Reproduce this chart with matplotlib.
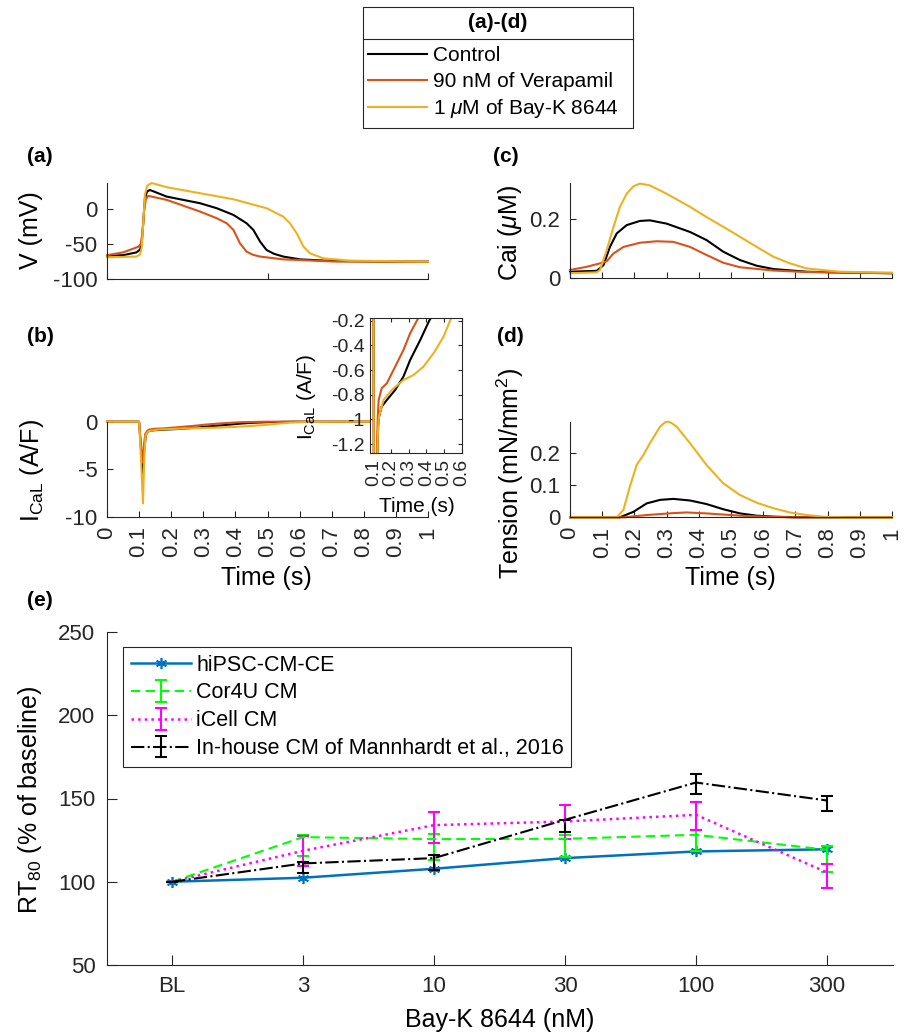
import matplotlib
matplotlib.use('Agg')
import matplotlib.pyplot as plt
import numpy as np
from matplotlib.lines import Line2D
from matplotlib.patches import Rectangle
from matplotlib.ticker import FuncFormatter

plt.rcParams['font.family'] = ['Liberation Sans', 'DejaVu Sans']
plt.rcParams['mathtext.fontset'] = 'custom'
plt.rcParams['mathtext.rm'] = 'Liberation Sans'
plt.rcParams['mathtext.it'] = 'Liberation Sans:italic'
plt.rcParams['mathtext.bf'] = 'Liberation Sans:bold'
plt.rcParams['axes.unicode_minus'] = False

# ---------------- data ----------------
series_labels = ['Control', '90 nM of Verapamil', r'1 $\mu$M of Bay-K 8644']
series_colors = ['#000000', '#D95319', '#EDB120']
legend_title = '(a)-(d)'

# (a) membrane potential
v_ctrl_t = [0, 0.05, 0.092, 0.103, 0.108, 0.113, 0.118, 0.125, 0.134, 0.186, 0.29, 0.342, 0.394,
            0.435, 0.456, 0.477, 0.497, 0.52, 0.549, 0.601, 0.705, 0.85, 1.0]
v_ctrl = [-67, -66, -62, -58, -50, -20, 15, 25, 27, 17.6, 8.1, 1, -8.6,
          -20.5, -30, -46.7, -58.6, -64, -68, -72, -74.3, -75, -75.2]
v_vera_t = [0, 0.05, 0.0976, 0.105, 0.11, 0.115, 0.121, 0.129, 0.186, 0.29, 0.342, 0.373, 0.394,
            0.414, 0.435, 0.455, 0.477, 0.549, 0.705, 1.0]
v_vera = [-66, -62, -54, -50, -35, -5, 14, 18.6, 12.9, -3.8, -13.3, -20.5, -30,
          -49, -61, -65.5, -68, -72, -75, -75.5]
v_bayk_t = [0, 0.092, 0.103, 0.108, 0.113, 0.118, 0.125, 0.139, 0.186, 0.29, 0.394, 0.497, 0.549,
            0.57, 0.591, 0.612, 0.632, 0.674, 0.757, 1.0]
v_bayk = [-69, -68, -65, -55, -20, 20, 33, 37, 31, 22.4, 13.8, 1, -11,
          -20.5, -34.8, -53.8, -63.3, -70.5, -73.8, -75.2]

# (b) L-type calcium current
i_ctrl_t = [0, 0.1, 0.106, 0.111, 0.116, 0.121, 0.127, 0.132, 0.147, 0.176, 0.223, 0.27, 0.308,
            0.365, 0.416, 0.45, 0.5, 0.58, 1.0]
i_ctrl = [0, 0, -3, -5.5, -3, -1.4, -1.05, -0.978, -0.897, -0.843, -0.762, -0.654, -0.519,
          -0.357, -0.2, -0.12, -0.05, 0, 0]
i_vera_t = [0, 0.1, 0.106, 0.111, 0.115, 0.119, 0.125, 0.13, 0.147, 0.176, 0.223, 0.27, 0.308,
            0.346, 0.38, 0.42, 0.5, 1.0]
i_vera = [0, 0, -2.5, -4.3, -2.5, -1.3, -0.978, -0.843, -0.748, -0.708, -0.573, -0.438, -0.302,
          -0.2, -0.12, -0.05, 0, 0]
i_bayk_t = [0, 0.1, 0.106, 0.112, 0.116, 0.12, 0.126, 0.132, 0.157, 0.204, 0.27, 0.327, 0.383,
            0.44, 0.497, 0.534, 0.57, 0.62, 0.7, 1.0]
i_bayk = [0, 0, -4.0, -8.6, -4.0, -1.5, -1.1, -0.978, -0.843, -0.762, -0.681, -0.64, -0.573,
          -0.465, -0.33, -0.2, -0.1, -0.03, 0, 0]

# (c) intracellular calcium
c_ctrl_t = [0, 0.083, 0.104, 0.124, 0.145, 0.176, 0.217, 0.248, 0.3, 0.373, 0.424, 0.476, 0.528,
            0.58, 0.632, 0.735, 0.85, 1.0]
c_ctrl = [0.022, 0.025, 0.044, 0.105, 0.15, 0.178, 0.192, 0.194, 0.183, 0.155, 0.128, 0.089, 0.061,
          0.042, 0.031, 0.022, 0.019, 0.017]
c_vera_t = [0, 0.05, 0.093, 0.114, 0.135, 0.166, 0.217, 0.269, 0.321, 0.373, 0.424, 0.476, 0.528,
            0.632, 0.735, 1.0]
c_vera = [0.028, 0.038, 0.05, 0.057, 0.083, 0.105, 0.119, 0.124, 0.122, 0.105, 0.078, 0.052, 0.037,
          0.026, 0.021, 0.017]
c_bayk_t = [0, 0.083, 0.093, 0.114, 0.135, 0.155, 0.176, 0.197, 0.217, 0.248, 0.3, 0.373, 0.424,
            0.497, 0.58, 0.632, 0.683, 0.735, 0.838, 1.0]
c_bayk = [0.017, 0.02, 0.028, 0.094, 0.172, 0.239, 0.283, 0.308, 0.317, 0.311, 0.283, 0.239, 0.205,
          0.159, 0.105, 0.072, 0.05, 0.033, 0.022, 0.019]

# (d) tension
f_ctrl_t = [0, 0.155, 0.197, 0.238, 0.28, 0.321, 0.373, 0.424, 0.476, 0.528, 0.58, 0.632, 0.7, 1.0]
f_ctrl = [0, 0, 0.017, 0.043, 0.054, 0.057, 0.052, 0.041, 0.025, 0.012, 0.005, 0.002, 0, 0]
f_vera_t = [0, 0.17, 0.238, 0.321, 0.362, 0.424, 0.528, 0.632, 0.7, 1.0]
f_vera = [0, 0, 0.007, 0.013, 0.015, 0.012, 0.005, 0.001, 0, 0]
f_bayk_t = [0, 0.145, 0.166, 0.186, 0.207, 0.228, 0.248, 0.28, 0.295, 0.305, 0.315, 0.331, 0.373,
            0.424, 0.476, 0.528, 0.58, 0.632, 0.683, 0.735, 0.787, 0.85, 1.0]
f_bayk = [0, 0, 0.023, 0.095, 0.162, 0.193, 0.229, 0.281, 0.294, 0.296, 0.292, 0.281, 0.229,
          0.162, 0.105, 0.069, 0.045, 0.028, 0.015, 0.007, 0.002, 0, 0]

# (e) RT80 vs Bay-K concentration
doses = ['BL', '3', '10', '30', '100', '300']
hipsc = [100, 102.4, 107.8, 114.2, 118.2, 119.5]
cor4u = [100, 126.8, 125.6, 125.8, 128.2, 119.2]
cor4u_low = [100, 115.4, 113.2, 115.0, 118.2, 105.6]
cor4u_high = [100, 128.0, 128.6, 128.2, 130.8, 121.2]
icell = [100, 118.6, 134.0, 136.2, 140.2, 105.6]
icell_low = [100, 109.6, 123.2, 125.8, 130.8, 96.2]
icell_high = [100, 127.7, 142.0, 146.2, 147.8, 110.8]
inhouse = [100, 111.0, 114.2, 137.2, 159.6, 148.8]
inhouse_low = [100, 105.2, 107.2, 129.8, 152.6, 142.2]
inhouse_high = [100, 111.8, 115.8, 137.2, 164.6, 151.8]
e_labels = ['hiPSC-CM-CE', 'Cor4U CM', 'iCell CM', 'In-house CM of Mannhardt et al., 2016']

# ---------------- styling ----------------
AX = (0.15, 0.15, 0.15)
W, H = 909, 1036
TICK = 16
LAB = 18
fmt = FuncFormatter(lambda v, p: '%g' % round(v, 6))

fig = plt.figure(figsize=(W / 100, H / 100), dpi=100)


def px_axes(x0, y0, x1, y1, **kw):
    return fig.add_axes([x0 / W, 1 - y1 / H, (x1 - x0) / W, (y1 - y0) / H], **kw)


def style(ax, box=False, size=TICK, length=4, pad=7):
    for s in ['top', 'right']:
        ax.spines[s].set_visible(box)
    for s in ax.spines.values():
        s.set_color(AX)
        s.set_linewidth(0.8)
    ax.tick_params(direction='in', colors=AX, labelsize=size, length=length, width=0.8,
                   pad=pad, top=box, right=box)
    ax.xaxis.set_major_formatter(fmt)
    ax.yaxis.set_major_formatter(fmt)


LW = 1.5

# (a)
ax_a = px_axes(107, 183, 428, 279)
lines_a = []
for t, v, c in [(v_ctrl_t, v_ctrl, series_colors[0]), (v_vera_t, v_vera, series_colors[1]),
                (v_bayk_t, v_bayk, series_colors[2])]:
    ln, = ax_a.plot(t, v, color=c, lw=LW, clip_on=False)
    lines_a.append(ln)
ax_a.set_xlim(0, 1)
ax_a.set_ylim(-100, 37)
style(ax_a)
ax_a.set_xticks([0, 0.5, 1])
ax_a.set_xticklabels([])
ax_a.set_yticks([-100, -50, 0])
ax_a.set_ylabel('V (mV)', fontsize=LAB, color='black')
ax_a.yaxis.label.set_va('center')
ax_a.yaxis.set_label_coords((31 - 107) / 321, 0.51)

# (c)
ax_c = px_axes(570, 183.3, 892, 278.3)
for t, v, c in [(c_ctrl_t, c_ctrl, series_colors[0]), (c_vera_t, c_vera, series_colors[1]),
                (c_bayk_t, c_bayk, series_colors[2])]:
    ax_c.plot(t, v, color=c, lw=LW, clip_on=False)
ax_c.set_xlim(0, 1)
ax_c.set_ylim(0, 0.318)
style(ax_c)
ax_c.set_xticks(np.arange(0, 11) / 10)
ax_c.set_xticklabels([])
ax_c.set_yticks([0, 0.2])
ax_c.set_ylabel(r'Cai ($\mu$M)', fontsize=LAB, color='black')
ax_c.yaxis.label.set_va('center')
ax_c.yaxis.set_label_coords((510 - 570) / 322, 0.48)

# (b)
ax_b = px_axes(107, 421.7, 428, 516.7)
for t, v, c in [(i_ctrl_t, i_ctrl, series_colors[0]), (i_vera_t, i_vera, series_colors[1]),
                (i_bayk_t, i_bayk, series_colors[2])]:
    ax_b.plot(t, v, color=c, lw=LW, clip_on=False)
ax_b.set_xlim(0, 1)
ax_b.set_ylim(-10, 0)
style(ax_b)
ax_b.set_xticks(np.arange(0, 11) / 10)
ax_b.set_yticks([-10, -5, 0])
ax_b.tick_params(axis='x', labelrotation=90)
ax_b.set_ylabel(r'I$_{\mathrm{CaL}}$ (A/F)', fontsize=LAB, color='black')
ax_b.yaxis.label.set_va('center')
ax_b.yaxis.set_label_coords((32 - 107) / 321, 0.49)
ax_b.set_xlabel('Time (s)', fontsize=LAB, color='black')
ax_b.xaxis.label.set_va('center')
ax_b.xaxis.set_label_coords(0.498, (516.7 - 578) / 95)

# inset of (b)
ax_in = px_axes(370, 318.3, 461.7, 453.3)
ax_in.set_zorder(5)
ax_in.set_facecolor('white')
for t, v, c in [(i_ctrl_t, i_ctrl, series_colors[0]), (i_vera_t, i_vera, series_colors[1]),
                (i_bayk_t, i_bayk, series_colors[2])]:
    ax_in.plot(t, v, color=c, lw=LW)
ax_in.set_xlim(0.081, 0.6)
ax_in.set_ylim(-1.275, -0.18)
style(ax_in, box=True, size=14, length=3, pad=4)
ax_in.set_xticks([0.1, 0.2, 0.3, 0.4, 0.5, 0.6])
ax_in.set_yticks([-1.2, -1.0, -0.8, -0.6, -0.4, -0.2])
ax_in.tick_params(axis='x', labelrotation=90)
ax_in.set_ylabel(r'I$_{\mathrm{CaL}}$ (A/F)', fontsize=15, color='black')
ax_in.yaxis.label.set_va('center')
ax_in.yaxis.set_label_coords((307 - 370) / 91.7, 0.42)
ax_in.set_xlabel('Time (s)', fontsize=15, color='black')
ax_in.xaxis.label.set_va('center')
ax_in.xaxis.set_label_coords(0.51, (453.3 - 507) / 135)

# (d)
ax_d = px_axes(570, 421.7, 892, 517.3)
for t, v, c in [(f_ctrl_t, f_ctrl, series_colors[0]), (f_vera_t, f_vera, series_colors[1]),
                (f_bayk_t, f_bayk, series_colors[2])]:
    ax_d.plot(t, v, color=c, lw=LW, clip_on=False)
ax_d.set_xlim(0, 1)
ax_d.set_ylim(0, 0.296)
style(ax_d)
ax_d.set_xticks(np.arange(0, 11) / 10)
ax_d.set_yticks([0, 0.1, 0.2])
ax_d.tick_params(axis='x', labelrotation=90)
ax_d.set_ylabel(r'Tension (mN/mm$^2$)', fontsize=LAB, color='black')
ax_d.yaxis.label.set_va('center')
ax_d.yaxis.set_label_coords((510 - 570) / 322, 0.46)
ax_d.set_xlabel('Time (s)', fontsize=LAB, color='black')
ax_d.xaxis.label.set_va('center')
ax_d.xaxis.set_label_coords(0.497, (517.3 - 578) / 95.6)

# (e)
ax_e = px_axes(106.5, 632, 892.5, 965)
xpos = np.arange(1, len(doses) + 1)
h_blue, = ax_e.plot(xpos, hipsc, color='#0072BD', lw=1.8, marker=(6, 2, 0), markersize=8,
                    markeredgewidth=1.2, label=e_labels[0])


def asym(vals, low, high):
    vals = np.array(vals); low = np.array(low); high = np.array(high)
    return np.vstack([vals - low, high - vals])


h_green = ax_e.errorbar(xpos, cor4u, yerr=asym(cor4u, cor4u_low, cor4u_high), color='#00FF00',
                        ls='--', lw=1.5, capsize=4.5, capthick=1.5, elinewidth=1.5, label=e_labels[1])
h_green.lines[0].set_dashes([4.5, 2.5])
h_mag = ax_e.errorbar(xpos, icell, yerr=asym(icell, icell_low, icell_high), color='#FF00FF',
                      ls=':', lw=1.8, capsize=4.5, capthick=1.5, elinewidth=1.5, label=e_labels[2])
h_blk = ax_e.errorbar(xpos, inhouse, yerr=asym(inhouse, inhouse_low, inhouse_high), color='black',
                      ls='-.', lw=1.5, capsize=4.5, capthick=1.5, elinewidth=1.5, label=e_labels[3])
ax_e.set_xlim(0.5, 6.5)
ax_e.set_ylim(50, 250)
style(ax_e, length=7, pad=8)
ax_e.set_xticks(xpos)
ax_e.set_xticklabels(doses)
ax_e.set_yticks([50, 100, 150, 200, 250])
ax_e.set_ylabel(r'RT$_{80}$ (% of baseline)', fontsize=LAB, color='black')
ax_e.yaxis.label.set_va('center')
ax_e.yaxis.set_label_coords((30 - 106.5) / 786, 0.495)
ax_e.set_xlabel('Bay-K 8644 (nM)', fontsize=LAB, color='black')
ax_e.xaxis.label.set_va('center')
ax_e.xaxis.set_label_coords(0.5, (965 - 1020) / 333)
leg_e = ax_e.legend(handles=[h_blue, h_green, h_mag, h_blk], labels=e_labels,
                    loc='upper left', bbox_to_anchor=(0.021, 0.955), borderaxespad=0,
                    fontsize=15.5, frameon=True, fancybox=False, edgecolor=AX, framealpha=1,
                    handlelength=2.8, handletextpad=0.25, labelspacing=0.32, borderpad=0.35)
leg_e.get_frame().set_linewidth(0.8)

# panel letters
for txt, x, y in [('(a)', 27, 157), ('(b)', 27, 336), ('(c)', 493, 157), ('(d)', 497, 336),
                  ('(e)', 27, 601)]:
    fig.text(x / W, 1 - y / H, txt, fontsize=15, fontweight='bold', ha='left', va='center')

# top legend: box with title compartment and entries
box_x0, box_x1, box_y0, box_y1, sep_y = 363, 633, 7, 128, 39
fig.add_artist(Rectangle((box_x0 / W, 1 - box_y1 / H), (box_x1 - box_x0) / W,
                         (box_y1 - box_y0) / H, transform=fig.transFigure,
                         facecolor='white', edgecolor=AX, lw=0.8))
fig.add_artist(Line2D([box_x0 / W, box_x1 / W], [1 - sep_y / H, 1 - sep_y / H],
                      transform=fig.transFigure, color=AX, lw=0.8))
fig.text((box_x0 + box_x1) / 2 / W, 1 - 23 / H, legend_title, fontsize=15, fontweight='bold',
         ha='center', va='center')
leg = fig.legend(lines_a, series_labels, loc='upper left',
                 bbox_to_anchor=(364 / W, 1 - 42 / H), fontsize=15, frameon=False,
                 handlelength=2.8, handletextpad=0.3, borderpad=0.2, labelspacing=0.32,
                 borderaxespad=0)

fig.savefig('out.png', dpi=100)
